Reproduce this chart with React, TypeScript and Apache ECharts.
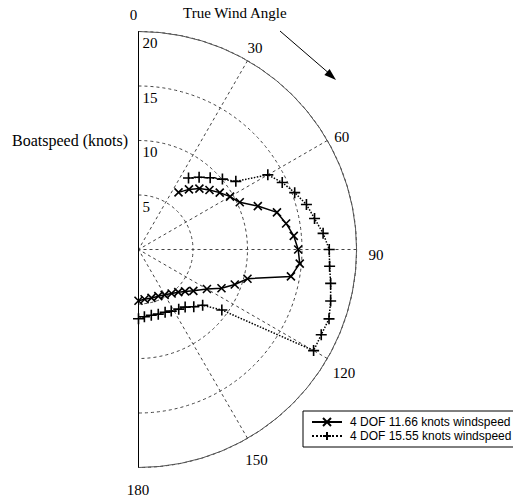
import React, { useEffect, useRef } from "react";
import * as echarts from "echarts";

const angleTicks = [0, 30, 60, 90, 120, 150, 180];
const radialTicks = [0, 5, 10, 15, 20];

const seriesNames = ["4 DOF 11.66 knots windspeed", "4 DOF 15.55 knots windspeed"];

const angles1 = [35, 40, 45, 50, 55, 60, 65, 70, 75, 80, 85, 90, 95, 100, 105, 110, 115, 120, 127, 132, 137, 143, 150, 157, 165, 173, 180];
const speeds1 = [6.4, 7.2, 7.9, 8.5, 9.1, 9.7, 10.25, 11.65, 13.15, 13.75, 14.3, 14.65, 14.85, 14.2, 10.35, 9.4, 8.4, 7.25, 6.3, 5.75, 5.35, 5.05, 4.8, 4.65, 4.6, 4.6, 4.7];

const angles2 = [35, 40, 45, 50, 55, 60, 65, 70, 75, 80, 85, 90, 95, 100, 105, 110, 115, 120, 126, 131, 136, 141, 146, 152, 157, 163, 169, 175, 180];
const speeds2 = [8.0, 8.65, 9.3, 10.05, 10.9, 13.7, 14.55, 15.25, 15.95, 16.4, 17.0, 17.5, 17.6, 17.9, 18.25, 18.6, 18.5, 18.55, 9.45, 7.8, 7.3, 6.8, 6.6, 6.4, 6.25, 6.2, 6.15, 6.2, 6.35];

const CX = 138.5;
const CY = 249.5;
const R = 218;

const SERIF = "'Liberation Serif', 'Times New Roman', serif";
const SANS = "'Liberation Sans', Arial, sans-serif";

const crossPath = "path://M0,0L10,10M10,0L0,10";
const plusPath = "path://M5,0L5,10M0,5L10,5";

// fine placement of each angle label (padding: top, right, bottom, left)
const angleLabelPadding: Record<number, number[]> = {
  0: [0, 10, 1, 0],
  30: [0, 0, -1.7, -4],
  60: [0, 0, -7.7, 0],
  90: [11, 0, 0, 4],
  120: [3, 0, 0, -1.4],
  150: [7.3, 0, 0, -6.3],
  180: [7, 1, 0, 0],
};

export default function App() {
  const ref = useRef<HTMLDivElement>(null);
  useEffect(() => {
    if (!ref.current) return;
    const chart = echarts.init(ref.current, null, { renderer: "svg" });
    const rich: Record<string, any> = {};
    angleTicks.forEach((t) => {
      rich["a" + t] = {
        fontFamily: SERIF,
        fontSize: 15,
        color: "#000",
        padding: angleLabelPadding[t] || 0,
      };
    });
    const option: any = {
      animation: false,
      backgroundColor: "#fff",
      title: [
        {
          text: "True Wind Angle",
          left: 183,
          top: 5,
          padding: 0,
          textStyle: { fontFamily: SERIF, fontSize: 15, fontWeight: "normal", color: "#000" },
        },
        {
          text: "Boatspeed (knots)",
          left: 12,
          top: 132,
          padding: 0,
          textStyle: { fontFamily: SERIF, fontSize: 16, fontWeight: "normal", color: "#000" },
        },
      ],
      polar: { center: [CX, CY], radius: R },
      angleAxis: {
        type: "value",
        min: 0,
        max: 180,
        interval: 30,
        startAngle: 90,
        endAngle: -90,
        clockwise: true,
        axisLine: { show: true, lineStyle: { color: "#555", width: 1 } },
        axisTick: { show: false },
        axisLabel: {
          margin: 8,
          formatter: (v: number) => `{a${v}|${v}}`,
          rich,
        },
        splitLine: { show: true, lineStyle: { color: "#444", type: [3, 3], width: 1 } },
      },
      radiusAxis: {
        type: "value",
        min: 0,
        max: 20,
        interval: 5,
        axisLine: { show: true, lineStyle: { color: "#000", width: 1 } },
        axisTick: { show: false },
        axisLabel: {
          margin: -4,
          align: "left",
          verticalAlign: "top",
          padding: [4, 0, 0, 0],
          fontFamily: SERIF,
          fontSize: 15,
          color: "#000",
          formatter: (v: number) => (v === radialTicks[0] ? "" : String(v)),
        },
        splitLine: { show: true, lineStyle: { color: "#444", type: [3, 3], width: 1 } },
      },
      legend: {
        orient: "vertical",
        left: 303,
        top: 411,
        padding: [4, 4, 4, 8],
        itemGap: 0,
        itemWidth: 30,
        itemHeight: 10,
        borderColor: "#000",
        borderWidth: 1,
        borderRadius: 0,
        backgroundColor: "#fff",
        textStyle: { fontFamily: SANS, fontSize: 12, color: "#000", lineHeight: 14, padding: [0, 0, 0, 3] },
        data: seriesNames,
      },
      graphic: [
        {
          type: "line",
          shape: { x1: CX, y1: CY - R, x2: CX, y2: CY + R },
          style: { stroke: "#000", lineWidth: 1 },
          z: 10,
        },
        {
          type: "line",
          shape: { x1: 280, y1: 31, x2: 331, y2: 75 },
          style: { stroke: "#000", lineWidth: 1 },
        },
        {
          type: "polygon",
          shape: { points: [[336, 80], [324.4, 75.1], [329.6, 69.1]] },
          style: { fill: "#000" },
        },
      ],
      series: [
        {
          name: seriesNames[0],
          type: "line",
          coordinateSystem: "polar",
          data: angles1.map((a, i) => [speeds1[i], a]),
          symbol: crossPath,
          symbolSize: 8,
          lineStyle: { color: "#000", width: 1.5, type: "solid" },
          itemStyle: { color: "#000", borderColor: "#000", borderWidth: 1.6 },
          z: 5,
        },
        {
          name: seriesNames[1],
          type: "line",
          coordinateSystem: "polar",
          data: angles2.map((a, i) => [speeds2[i], a]),
          symbol: plusPath,
          symbolSize: 11,
          lineStyle: { color: "#000", width: 1.5, type: "dotted" },
          itemStyle: { color: "#000", borderColor: "#000", borderWidth: 1.6 },
          z: 5,
        },
      ],
    };
    chart.setOption(option);
    return () => chart.dispose();
  }, []);
  return (
    <div
      ref={ref}
      style={{ position: "fixed", left: 0, top: 0, width: 513, height: 498, background: "#fff" }}
    />
  );
}
